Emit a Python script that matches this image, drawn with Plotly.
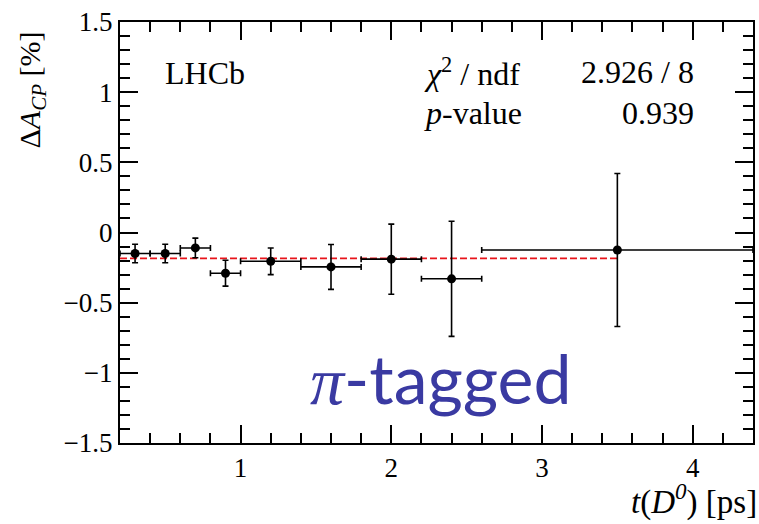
import plotly.graph_objects as go

# Time-dependent Delta A_CP in bins of D0 decay time (pi-tagged sample)
t_centers = [0.3, 0.5, 0.7, 0.9, 1.2, 1.6, 2.0, 2.4, 3.5]
t_halfwidth = [0.1, 0.1, 0.1, 0.1, 0.2, 0.2, 0.2, 0.2, 0.9]
dacp = [-0.15, -0.15, -0.11, -0.29, -0.205, -0.245, -0.19, -0.33, -0.125]
dacp_err = [0.066, 0.066, 0.07, 0.092, 0.095, 0.16, 0.25, 0.41, 0.545]

# Constant fit
fit_value = -0.185
fit_range = [0.2, 3.5]

x_ticks = [1, 2, 3, 4]
y_ticks = [-1.5, -1, -0.5, 0, 0.5, 1, 1.5]
y_tick_text = ["\u22121.5", "\u22121", "\u22120.5", "0", "0.5", "1", "1.5"]

chi2_text = "2.926 / 8"
pvalue_text = "0.939"

SERIF = "Liberation Serif, Times New Roman, serif"

fig = go.Figure()

fig.add_trace(go.Scatter(
    x=fit_range, y=[fit_value, fit_value],
    mode="lines",
    line=dict(color="#e8141b", width=1.8, dash="7px,3px"),
    hoverinfo="skip", showlegend=False,
))

fig.add_trace(go.Scatter(
    x=t_centers, y=dacp,
    mode="markers",
    marker=dict(color="black", size=9, symbol="circle"),
    error_x=dict(type="data", array=t_halfwidth, color="black", thickness=1.6, width=3),
    error_y=dict(type="data", array=dacp_err, color="black", thickness=1.6, width=3),
    showlegend=False,
))

axis_common = dict(
    showline=True, linecolor="black", linewidth=2, mirror="ticks",
    ticks="inside", ticklen=18, tickwidth=1.6, tickcolor="black",
    showgrid=False, zeroline=False,
    tickfont=dict(family=SERIF, size=27, color="black"),
)

fig.update_xaxes(
    range=[0.2, 4.4], tickmode="array", tickvals=x_ticks,
    minor=dict(ticks="inside", ticklen=10, tickwidth=1.6, tickcolor="black", dtick=0.2, tick0=0),
    **axis_common,
)
fig.update_yaxes(
    range=[-1.5, 1.5], tickmode="array", tickvals=y_ticks, ticktext=y_tick_text,
    minor=dict(ticks="inside", ticklen=10, tickwidth=1.6, tickcolor="black", dtick=0.1, tick0=0),
    **axis_common,
)

serif_font = dict(family=SERIF, size=32, color="black")

annotations = [
    dict(text="LHCb", x=0.068, y=0.879, xanchor="left", yanchor="middle", font=serif_font),
    dict(text="<i>\u03c7</i><sup>2</sup> / ndf", x=0.477, y=0.881, xanchor="left", yanchor="middle",
         font=serif_font),
    dict(text=chi2_text, x=0.910, y=0.881, xanchor="right", yanchor="middle", font=serif_font),
    dict(text="<i>p</i>-value", x=0.477, y=0.784, xanchor="left", yanchor="middle", font=serif_font),
    dict(text=pvalue_text, x=0.910, y=0.784, xanchor="right", yanchor="middle", font=serif_font),
    dict(text="<span style=\"font-family:'Liberation Serif'\"><i>\u03c0</i></span>-tagged",
         x=0.507, y=0.155, xanchor="center", yanchor="middle",
         font=dict(family="Lato", size=68, color="#3a3aa2")),
    dict(text="\u0394<i>A</i><sub><i>CP</i></sub> [%]", x=-0.1386, y=0.838,
         xanchor="center", yanchor="middle", textangle=-90,
         font=dict(family=SERIF, size=30, color="black")),
    dict(text="<i>t</i>(<i>D</i><sup><i>0</i></sup>) [ps]", x=1.01, y=-0.135,
         xanchor="right", yanchor="middle",
         font=dict(family=SERIF, size=33, color="black")),
]
for a in annotations:
    a.update(xref="paper", yref="paper", showarrow=False)
fig.update_layout(annotations=annotations)

fig.update_layout(
    width=759, height=524,
    margin=dict(l=120, r=4, t=22, b=81),
    paper_bgcolor="white", plot_bgcolor="white",
    showlegend=False,
)

fig.write_html("out.html")
